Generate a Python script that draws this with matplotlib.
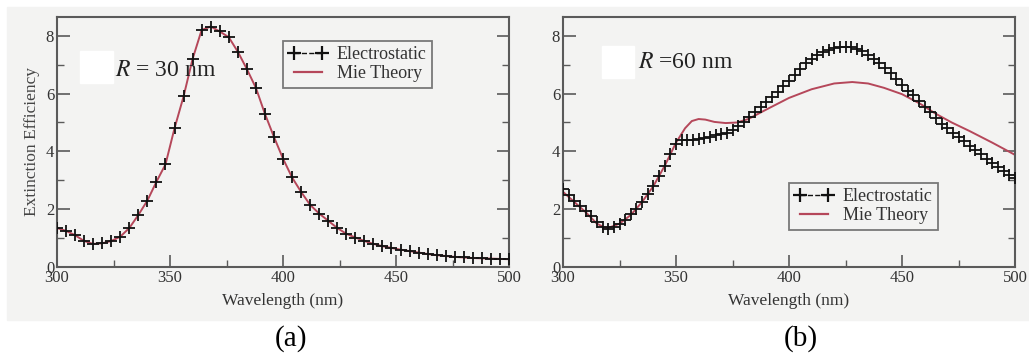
import matplotlib.pyplot as plt
from matplotlib.lines import Line2D
from matplotlib.patches import Rectangle
from matplotlib.ticker import MultipleLocator

plt.rcParams['font.family'] = ['Liberation Serif', 'DejaVu Serif']

# panel (a): R = 30 nm, electrostatic and Mie coincide
wl_a = [300, 304, 308, 312, 316, 320, 324, 328, 332, 336, 340, 344, 348, 352,
        356, 360, 364, 368, 372, 376, 380, 384, 388, 392, 396, 400, 404, 408,
        412, 416, 420, 424, 428, 432, 436, 440, 444, 448, 452, 456, 460, 464,
        468, 472, 476, 480, 484, 488, 492, 496, 500]
es_a = [1.35, 1.25, 1.1, 0.9, 0.8, 0.82, 0.9, 1.05, 1.35, 1.8, 2.3, 2.95, 3.55,
        4.8, 5.9, 7.2, 8.2, 8.32, 8.15, 7.95, 7.45, 6.85, 6.2, 5.3, 4.5, 3.75,
        3.1, 2.6, 2.15, 1.85, 1.6, 1.35, 1.15, 1.02, 0.9, 0.8, 0.72, 0.66, 0.6,
        0.55, 0.5, 0.45, 0.41, 0.38, 0.35, 0.33, 0.31, 0.3, 0.29, 0.28, 0.27]
mie_a = es_a

# panel (b): R = 60 nm
wl_b = [300, 302.5, 305, 307.5, 310, 312.5, 315, 317.5, 320, 322.5, 325, 327.5,
        330, 332.5, 335, 337.5, 340, 342.5, 345, 347.5, 350, 352.5, 355, 357.5,
        360, 362.5, 365, 367.5, 370, 372.5, 375, 377.5, 380, 382.5, 385, 387.5,
        390, 392.5, 395, 397.5, 400, 402.5, 405, 407.5, 410, 412.5, 415, 417.5,
        420, 422.5, 425, 427.5, 430, 432.5, 435, 437.5, 440, 442.5, 445, 447.5,
        450, 452.5, 455, 457.5, 460, 462.5, 465, 467.5, 470, 472.5, 475, 477.5,
        480, 482.5, 485, 487.5, 490, 492.5, 495, 497.5, 500]
es_b = [2.7, 2.5, 2.3, 2.1, 1.93, 1.75, 1.55, 1.38, 1.32, 1.38, 1.5, 1.62,
        1.82, 2.02, 2.25, 2.52, 2.8, 3.15, 3.5, 3.9, 4.25, 4.38, 4.4, 4.4,
        4.42, 4.45, 4.5, 4.55, 4.6, 4.65, 4.75, 4.88, 5.02, 5.18, 5.35, 5.52,
        5.7, 5.88, 6.05, 6.25, 6.45, 6.63, 6.85, 7.05, 7.2, 7.33, 7.45, 7.52,
        7.58, 7.6, 7.62, 7.6, 7.55, 7.47, 7.35, 7.2, 7.05, 6.9, 6.7, 6.5,
        6.3, 6.1, 5.95, 5.75, 5.55, 5.35, 5.15, 4.95, 4.8, 4.65, 4.5, 4.35,
        4.2, 4.05, 3.9, 3.75, 3.6, 3.45, 3.32, 3.2, 3.08]
wl_mie_b = [300, 305, 310, 315, 318, 320, 325, 330, 335, 340, 345, 350, 354,
            357, 360, 363, 367, 372, 377, 382, 390, 400, 410, 420, 428, 435,
            442, 450, 458, 465, 472, 480, 490, 500]
mie_b = [2.6, 2.25, 1.9, 1.5, 1.38, 1.35, 1.5, 1.8, 2.25, 2.8, 3.5, 4.3, 4.8,
         5.05, 5.12, 5.1, 5.02, 4.98, 5.0, 5.12, 5.45, 5.85, 6.15, 6.35, 6.4,
         6.35, 6.2, 5.98, 5.65, 5.3, 5.0, 4.7, 4.3, 3.88]

bg = '#f3f3f2'
frame = '#5a5a5a'
red = '#b5475a'

fig = plt.figure(figsize=(10.29, 3.55), dpi=100)
fig.patches.append(Rectangle((7 / 1029, 1 - 320 / 355), 1 - 7 / 1029, 313 / 355,
                             transform=fig.transFigure, color=bg, zorder=-5))

ax_a = fig.add_axes([57 / 1029, 88 / 355, 452 / 1029, 250 / 355])
ax_b = fig.add_axes([563 / 1029, 88 / 355, 452 / 1029, 250 / 355])

panels = [
    (ax_a, wl_a, es_a, wl_a, mie_a, (0.83, 0.904), 9, (0.051, 0.736)),
    (ax_b, wl_b, es_b, wl_mie_b, mie_b, (0.83, 0.336), 8, (0.086, 0.756)),
]

for ax, wx, ey, mx, my, leg_pos, ms, box in panels:
    ax.set_facecolor(bg)
    # white patch left of the R label, as in the scanned figure
    ax.add_patch(Rectangle(box, 0.072, 0.13, transform=ax.transAxes,
                           color='white', zorder=1))
    ax.plot(mx, my, color=red, lw=1.4, zorder=2)
    ax.plot(wx, ey, ls='none', marker='+', ms=ms, mew=1.3, color='#111111',
            zorder=3)
    ax.set_xlim(300, 500)
    ax.set_ylim(0, 8.65)
    ax.xaxis.set_major_locator(MultipleLocator(50))
    ax.xaxis.set_minor_locator(MultipleLocator(25))
    ax.yaxis.set_major_locator(MultipleLocator(2))
    ax.yaxis.set_minor_locator(MultipleLocator(1))
    ax.tick_params(which='both', direction='in', right=True, top=False,
                   color=frame, labelsize=12, labelcolor='#333333', pad=2)
    ax.tick_params(which='major', length=9, width=1.2)
    ax.tick_params(which='minor', length=5, width=1.0)
    for s in ax.spines.values():
        s.set_color(frame)
        s.set_linewidth(1.5)
    ax.set_xlabel('Wavelength (nm)', fontsize=12.5, color='#333333', labelpad=5)
    handles = [
        Line2D([], [], color='#111111', ls='--', lw=1, marker='+', ms=10, mew=1.6),
        Line2D([], [], color=red, lw=1.6),
    ]
    leg = ax.legend(handles, ['Electrostatic', 'Mie Theory'], loc='upper right',
                    bbox_to_anchor=leg_pos, numpoints=2, fontsize=13,
                    frameon=True, fancybox=False, edgecolor=frame,
                    handlelength=2.2, handletextpad=0.5, borderpad=0.3,
                    labelspacing=0.1, borderaxespad=0)
    leg.get_frame().set_facecolor(bg)
    leg.get_frame().set_linewidth(1.3)
    for t in leg.get_texts():
        t.set_color('#333333')

ax_a.set_ylabel('Extinction Efficiency', fontsize=12.5, color='#444444',
                labelpad=4)

ax_a.text(0.128, 0.788, r'$R$ = 30 nm', transform=ax_a.transAxes, fontsize=17,
          math_fontfamily='stix', color='#222222', va='center')
ax_b.text(0.166, 0.82, r'$R$ =60 nm', transform=ax_b.transAxes, fontsize=17,
          math_fontfamily='stix', color='#222222', va='center')

fig.text(291 / 1029, 1 - 339 / 355, '(a)', fontsize=21, ha='center', va='center')
fig.text(801 / 1029, 1 - 339 / 355, '(b)', fontsize=21, ha='center', va='center')

fig.savefig('out.png', dpi=100)
